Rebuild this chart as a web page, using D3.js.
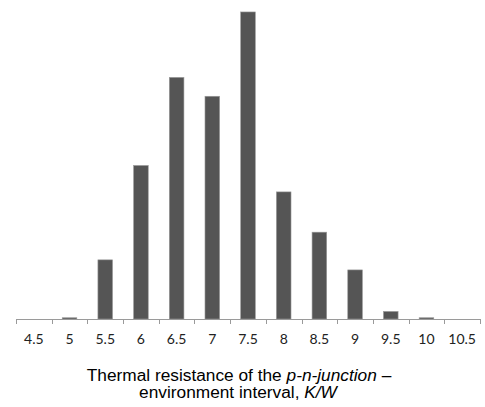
<!DOCTYPE html>
<html>
<head>
<meta charset="utf-8">
<script src="https://cdn.jsdelivr.net/npm/d3@7"></script>
<style>
  html, body { margin: 0; padding: 0; background: #fff; }
  svg { display: block; }
</style>
</head>
<body>
<svg id="chart" width="485" height="407"></svg>
<script>
// Interval centres (K/W) and share of devices in each interval, %
const intervals = ["4.5", "5", "5.5", "6", "6.5", "7", "7.5", "8", "8.5", "9", "9.5", "10", "10.5"];
const shares = [0, 0.1, 4.7, 12.2, 19.2, 17.7, 24.4, 10.1, 6.9, 3.9, 0.6, 0.1, 0];

const svg = d3.select("#chart");
const left = 16, right = 480, base = 319;

const x = d3.scaleBand()
  .domain(intervals)
  .range([left, right])
  .paddingInner(0.59)
  .paddingOuter(0.295);

const band = d3.scaleBand().domain(intervals).range([left, right]);

const y = d3.scaleLinear().domain([0, 25.35]).range([base, 0]);

// bars
svg.append("g")
  .selectAll("rect")
  .data(intervals.map((k, i) => ({ k, v: shares[i] })).filter(d => d.v > 0))
  .join("rect")
  .attr("x", d => x(d.k))
  .attr("width", x.bandwidth())
  .attr("y", d => y(d.v))
  .attr("height", d => base - y(d.v))
  .attr("fill", "#555555")
  .attr("stroke", "#9a9a9a")
  .attr("stroke-width", 0.6);

// baseline with tick marks at interval boundaries
const axis = svg.append("g");
axis.append("line")
  .attr("x1", left).attr("x2", right)
  .attr("y1", base + 0.5).attr("y2", base + 0.5)
  .attr("stroke", "#9a9a9a").attr("stroke-width", 1);

const bounds = intervals.map(k => band(k)).concat([right]);
axis.selectAll("line.tick")
  .data(bounds)
  .join("line")
  .attr("class", "tick")
  .attr("x1", d => Math.round(d) + 0.5).attr("x2", d => Math.round(d) + 0.5)
  .attr("y1", base).attr("y2", base + 5)
  .attr("stroke", "#9a9a9a").attr("stroke-width", 1);

axis.selectAll("text")
  .data(intervals)
  .join("text")
  .attr("x", d => band(d) + band.bandwidth() / 2)
  .attr("y", 344)
  .attr("text-anchor", "middle")
  .attr("font-family", "Lato, 'Open Sans', sans-serif")
  .attr("font-size", 14)
  .attr("fill", "#222")
  .text(d => d);

// axis title
const title = svg.append("text")
  .attr("text-anchor", "middle")
  .attr("font-family", "'Liberation Sans', Arial, sans-serif")
  .attr("font-size", 17.3)
  .attr("fill", "#000");

const l1 = title.append("tspan").attr("x", 239).attr("y", 381);
l1.append("tspan").text("Thermal resistance of the ");
l1.append("tspan").attr("font-style", "italic").text("p-n-junction");
l1.append("tspan").text(" \u2013");

const l2 = title.append("tspan").attr("x", 238).attr("y", 398);
l2.append("tspan").text("environment interval, ");
l2.append("tspan").attr("font-style", "italic").text("K/W");
</script>
</body>
</html>
